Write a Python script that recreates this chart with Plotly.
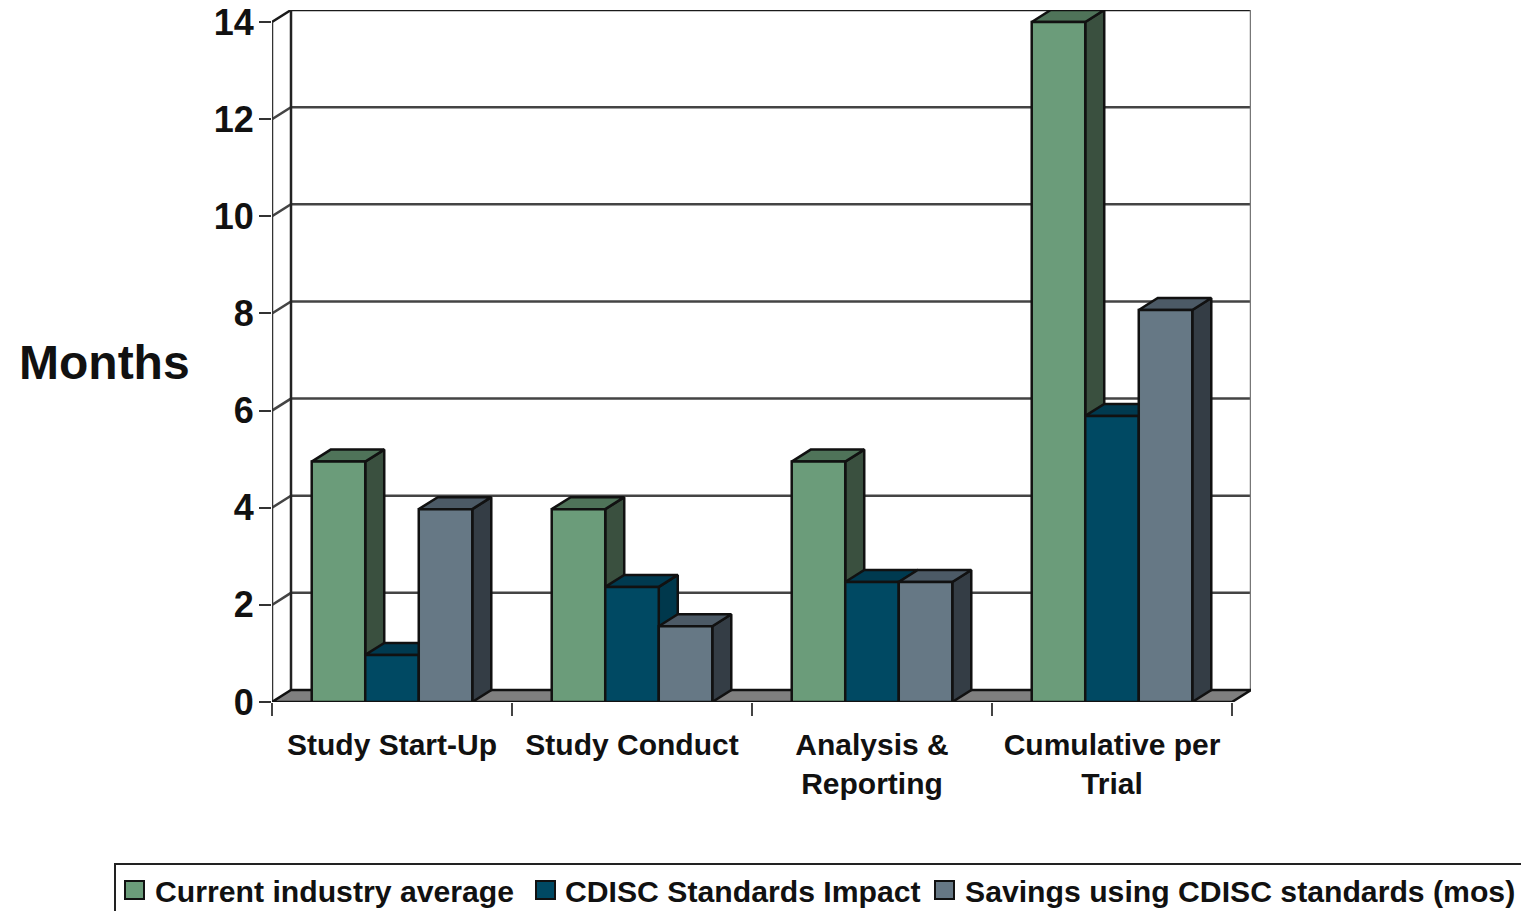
import plotly.graph_objects as go

categories = ["Study Start-Up", "Study Conduct", "Analysis &<br>Reporting", "Cumulative per<br>Trial"]
series_names = ["Current industry average", "CDISC Standards Impact", "Savings using CDISC standards (mos)"]
current_avg = [4.95, 3.97, 4.95, 14]
cdisc_impact = [0.97, 2.37, 2.47, 5.89]
savings = [3.97, 1.56, 2.47, 8.07]
all_values = [current_avg, cdisc_impact, savings]
y_ticks = [0, 2, 4, 6, 8, 10, 12, 14]

front_colors = ["#6B9C7A", "#004963", "#667885"]
top_colors = ["#4F7359", "#003A50", "#4C5A66"]
side_colors = ["#3A503F", "#00384C", "#343D45"]

W, H = 1521, 911
L, R, T, B = 272, 1251, 10, 702
CAT_PX = 240.0
UNIT_PX = 48.57
DX = 19 / CAT_PX
DY = 12 / UNIT_PX
NCAT = len(categories)
XR = [0, NCAT + DX]
YR = [0, 14 + DY]
BARGAP = 0.331
BAR_W = (1 - BARGAP) / 3
INK = "#111111"
centers = [i + 0.5 for i in range(NCAT)]


def px(x):
    return (x - L) / (R - L)


def py(y):
    return (B - y) / (B - T)


fig = go.Figure()


def line(xs, ys, color="#333333", width=2.5):
    fig.add_trace(go.Scatter(x=xs, y=ys, mode="lines", line=dict(color=color, width=width),
                             showlegend=False, hoverinfo="skip", cliponaxis=False))


def poly(xs, ys, fill, lw=2.5):
    fig.add_trace(go.Scatter(x=xs, y=ys, mode="lines", fill="toself", fillcolor=fill, cliponaxis=False,
                             line=dict(color="#111111", width=lw), showlegend=False, hoverinfo="skip"))


# back and side walls
for v in y_ticks[1:-1]:
    line([0, DX, NCAT + DX], [v, v + DY, v + DY], "#444444")
line([0, DX, NCAT + DX], [14, 14 + DY, 14 + DY], "#1A1A1A")
line([DX, DX], [DY, 14 + DY], "#222222")
line([NCAT + DX, NCAT + DX], [DY, 14 + DY], "#777777")
line([0, 0], [0, 14], "#333333")
# floor
poly([0, DX, NCAT + DX, NCAT, 0], [0, DY, DY, 0, 0], "#7F7F7F")

# bar depth faces derived from the values
for s, vals in enumerate(all_values):
    for c, v in zip(centers, vals):
        xl = c - 1.5 * BAR_W + s * BAR_W
        xr = xl + BAR_W
        poly([xr, xr + DX, xr + DX, xr, xr], [0, DY, v + DY, v, 0], side_colors[s])
        poly([xl, xl + DX, xr + DX, xr, xl], [v, v + DY, v + DY, v, v], top_colors[s])

# front faces, on an overlaid subplot so they cover the depth faces
for s, vals in enumerate(all_values):
    fig.add_trace(go.Bar(x=centers, y=vals, name=series_names[s], xaxis="x2", yaxis="y2",
                         marker=dict(color=front_colors[s], line=dict(color="#111111", width=2.5)),
                         showlegend=False))

# legend box, swatches and labels (one row wider than a native horizontal legend allows)
legend_swatch_px = [125, 536, 935]
legend_text_px = [153, 563, 963]
shapes = [dict(type="rect", xref="paper", yref="paper", layer="below",
               x0=px(115), x1=px(1535), y0=py(864), y1=py(925),
               line=dict(color="#222222", width=2), fillcolor="white")]
annotations = [dict(text="<b>Months</b>", xref="paper", yref="paper",
                    x=px(104), y=py(362), xanchor="center", yanchor="middle",
                    showarrow=False, font=dict(size=48, family="Liberation Sans", color=INK))]
for s, name in enumerate(series_names):
    shapes.append(dict(type="rect", xref="paper", yref="paper",
                       x0=px(legend_swatch_px[s]), x1=px(legend_swatch_px[s] + 19),
                       y0=py(881), y1=py(899),
                       line=dict(color="#111111", width=2), fillcolor=front_colors[s]))
    annotations.append(dict(text=f"<b>{name}</b>", xref="paper", yref="paper",
                            x=px(legend_text_px[s]), y=py(891), xanchor="left", yanchor="middle",
                            showarrow=False,
                            font=dict(size=30.2, family="Liberation Sans", color=INK)))

fig.update_layout(
    width=W, height=H, autosize=False, showlegend=False,
    margin=dict(l=L, r=W - R, t=T, b=H - B, pad=0, autoexpand=False),
    paper_bgcolor="white", plot_bgcolor="white",
    barmode="group", bargap=BARGAP, bargroupgap=0,
    font=dict(family="Liberation Sans", color=INK),
    xaxis=dict(range=XR, tickvals=centers, ticktext=categories, showgrid=False, zeroline=False,
               showline=False, ticks="outside", ticklen=16, tickcolor="rgba(0,0,0,0)",
               tickfont=dict(size=30, family="Liberation Sans", color=INK, weight="bold"),
               tickangle=0,
               minor=dict(tickvals=list(range(NCAT + 1)), ticks="outside", ticklen=13,
                          tickwidth=2, tickcolor="#444444")),
    yaxis=dict(range=YR, tickvals=y_ticks, showgrid=False, zeroline=False, showline=False,
               ticks="outside", ticklen=12, tickwidth=2, tickcolor="#333333", ticklabelstandoff=-2,
               tickfont=dict(size=36, family="Liberation Sans", color=INK, weight="bold")),
    xaxis2=dict(range=XR, overlaying="x", visible=False),
    yaxis2=dict(range=YR, overlaying="y", visible=False),
    shapes=shapes,
    annotations=annotations,
)
fig.write_html("out.html", config={"displayModeBar": False},
               post_script="document.body.style.margin='0';document.body.style.overflow='hidden';")
